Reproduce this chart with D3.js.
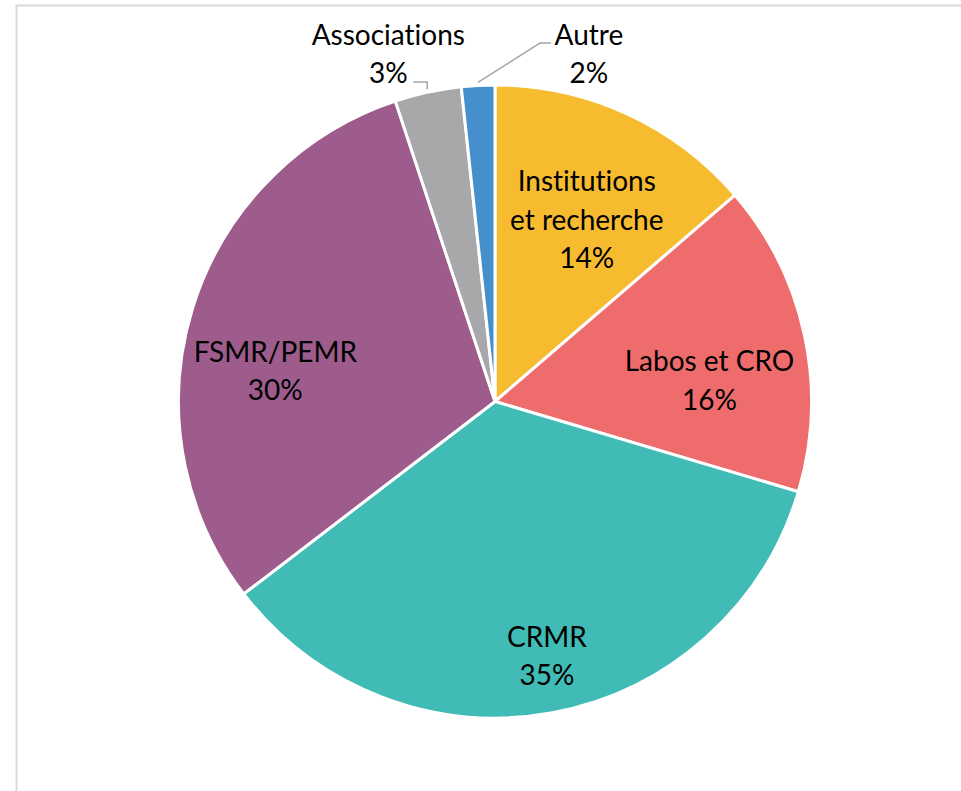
<!DOCTYPE html>
<html>
<head>
<meta charset="utf-8">
<script src="https://cdn.jsdelivr.net/npm/d3@7"></script>
<style>
  body { margin: 0; background: #fff; }
  text {
    font-family: Lato, "Open Sans", sans-serif; fill: #000;
    font-variant-ligatures: none; font-feature-settings: "liga" 0, "clig" 0;
  }
</style>
</head>
<body>
<div id="chart"></div>
<script>
// slices, clockwise from 12 o'clock
var categories = ["Institutions\net recherche", "Labos et CRO", "CRMR", "FSMR/PEMR", "Associations", "Autre"];
var values = [13.7, 15.9, 35.0, 30.3, 3.4, 1.7];
var colors = ["#F6BB2F", "#EE6C6B", "#40BBB5", "#9D5C8C", "#A8A7AA", "#4590CC"];
// small label shifts (px) off the centroid, like the original's best-fit placement
var labelNudge = [[2, 14], [4, 24], [13, 43], [-14, 33], [0, 0], [0, 0]];

var width = 961, height = 791;
var cx = 495, cy = 401.5, R = 316.5;
var fontSize = 28, lineH = 38.5;

var svg = d3.select("#chart").append("svg")
    .attr("width", width)
    .attr("height", height);

// chart area border (only top & left visible)
svg.append("rect")
    .attr("x", 16.5).attr("y", 5.5)
    .attr("width", 1200).attr("height", 1200)
    .attr("fill", "none")
    .attr("stroke", "#D9D9D9")
    .attr("stroke-width", 2);

var data = categories.map(function (c, i) {
  return {name: c, value: values[i], color: colors[i], nudge: labelNudge[i]};
});
var total = d3.sum(values);

var pie = d3.pie().sort(null).value(function (d) { return d.value; });
var arcs = pie(data);

var arc = d3.arc().innerRadius(0).outerRadius(R);
var labelArc = d3.arc().innerRadius(R * 0.68).outerRadius(R * 0.68);

var g = svg.append("g").attr("transform", "translate(" + cx + "," + cy + ")");

g.selectAll("path.slice")
  .data(arcs).enter()
  .append("path")
    .attr("class", "slice")
    .attr("d", arc)
    .attr("fill", function (d) { return d.data.color; })
    .attr("stroke", "#fff")
    .attr("stroke-width", 3)
    .attr("stroke-linejoin", "round");

function pct(d) { return Math.round(d.data.value / total * 100) + "%"; }
function lines(d) { return d.data.name.split("\n").concat([pct(d)]); }

// inside labels
var inside = arcs.filter(function (d) { return d.data.value / total >= 0.05; });
inside.forEach(function (d) {
  var c = labelArc.centroid(d);
  var x = c[0] + d.data.nudge[0], y = c[1] + d.data.nudge[1];
  var ls = lines(d);
  var t = g.append("text")
      .attr("text-anchor", "middle")
      .attr("font-size", fontSize);
  ls.forEach(function (s, k) {
    t.append("tspan")
      .attr("x", x)
      .attr("y", y + (k - (ls.length - 1) / 2) * lineH)
      .attr("dy", "0.35em")
      .text(s);
  });
});

// outside labels for the thin slices, one to each side of the top
var outside = arcs.filter(function (d) { return d.data.value / total < 0.05; });
var line1 = -R - 50, line2 = line1 + lineH;
outside.forEach(function (d, i) {
  var a = (d.startAngle + d.endAngle) / 2;
  var p0 = [Math.sin(a) * (R + 3), -Math.cos(a) * (R + 3)];
  var pts, tx;
  if (i === 0) {
    var ey = -R - 3;
    pts = [p0, [p0[0], ey], [p0[0] - 14, ey]];
    tx = p0[0] - 39;
  } else {
    var ey2 = line1 + 8;
    var ex = p0[0] + 62;
    pts = [p0, [ex, ey2], [ex + 11, ey2]];
    tx = ex + 49;
  }
  g.append("path")
    .attr("d", d3.line()(pts))
    .attr("fill", "none")
    .attr("stroke", "#A6A6A6")
    .attr("stroke-width", 1.5);
  var ls = lines(d);
  var t = g.append("text")
      .attr("text-anchor", "middle")
      .attr("font-size", fontSize);
  ls.forEach(function (s, k) {
    t.append("tspan")
      .attr("x", tx)
      .attr("y", k === 0 ? line1 : line2)
      .attr("dy", "0.35em")
      .text(s);
  });
});
</script>
</body>
</html>
